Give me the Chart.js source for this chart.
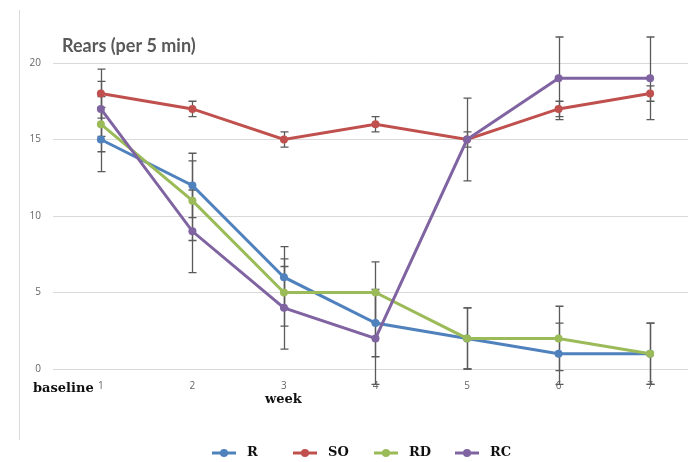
<!DOCTYPE html>
<html>
<head>
<meta charset="utf-8">
<script src="https://cdn.jsdelivr.net/npm/chart.js@4/dist/chart.umd.min.js"></script>
<style>
  html, body { margin: 0; padding: 0; background: #fff; }
  #wrap { width: 692px; height: 462px; position: relative; }
</style>
</head>
<body>
<div id="wrap"><canvas id="c" width="692" height="462"></canvas></div>
<script>
// Weeks on the x axis
const weeks = [1, 2, 3, 4, 5, 6, 7];
const weekLabels = ['1', '2', '3', '4', '5', '6', '7'];
const yTicks = [0, 5, 10, 15, 20];

// Mean rears per 5 min for each group
const seriesNames = ['R', 'SO', 'RD', 'RC'];
const rValues  = [15, 12, 6, 3, 2, 1, 1];
const soValues = [18, 17, 15, 16, 15, 17, 18];
const rdValues = [16, 11, 5, 5, 2, 2, 1];
const rcValues = [17, 9, 4, 2, 15, 19, 19];

// Error bar half-widths (±)
const rErr  = [2.1, 2.1, 2.0, 2.2, 2.0, 2.0, 2.0];
const soErr = [1.6, 0.5, 0.5, 0.5, 0.5, 0.5, 0.5];
const rdErr = [1.8, 2.6, 2.2, 2.0, 2.0, 2.1, 2.0];
const rcErr = [1.8, 2.7, 2.7, 3.0, 2.7, 2.7, 2.7];

const colors = ['#4f81bd', '#c0504d', '#9bbb59', '#8064a2'];
const values = [rValues, soValues, rdValues, rcValues];
const errors = [rErr, soErr, rdErr, rcErr];

const datasets = seriesNames.map((name, i) => ({
  label: name,
  data: weeks.map((w, j) => ({ x: w, y: values[i][j] })),
  errors: errors[i],
  borderColor: colors[i],
  backgroundColor: colors[i],
  pointBackgroundColor: colors[i],
  pointBorderColor: colors[i],
  borderWidth: 3,
  pointRadius: 4,
  pointBorderWidth: 0,
  tension: 0,
  order: 3 - i,
  clip: false
}));

const serifBold = 'bold 13px "DejaVu Serif", "Liberation Serif", serif';

// Error bars, drawn beneath the lines
const errorBars = {
  id: 'errorBars',
  beforeDatasetsDraw(chart) {
    const ctx = chart.ctx;
    const xs = chart.scales.x, ys = chart.scales.y;
    ctx.save();
    ctx.strokeStyle = '#5a5a5a';
    ctx.lineWidth = 1.3;
    chart.data.datasets.forEach(ds => {
      ds.data.forEach((p, j) => {
        const e = ds.errors[j];
        const x = Math.round(xs.getPixelForValue(p.x)) + 0.5;
        const yTop = ys.getPixelForValue(p.y + e);
        const yBot = ys.getPixelForValue(p.y - e);
        ctx.beginPath();
        ctx.moveTo(x, yTop); ctx.lineTo(x, yBot);
        ctx.moveTo(x - 4, yTop); ctx.lineTo(x + 4, yTop);
        ctx.moveTo(x - 4, yBot); ctx.lineTo(x + 4, yBot);
        ctx.stroke();
      });
    });
    ctx.restore();
  }
};

// Frame line, title, axis captions and legend
const decorations = {
  id: 'decorations',
  afterDraw(chart) {
    const ctx = chart.ctx;
    ctx.save();
    ctx.strokeStyle = '#d9d9d9';
    ctx.lineWidth = 1;
    ctx.beginPath();
    ctx.moveTo(19.5, 10); ctx.lineTo(19.5, 440);
    ctx.stroke();

    ctx.fillStyle = '#595959';
    ctx.font = 'bold 18px Lato, "Open Sans", sans-serif';
    ctx.textBaseline = 'middle';
    ctx.textAlign = 'left';
    ctx.fillText('Rears (per 5 min)', 62, 46);

    ctx.fillStyle = '#111';
    ctx.font = serifBold;
    ctx.fillText('baseline', 33, 389);
    ctx.fillText('week', 265, 400);

    // legend
    const startX = 212, itemW = 81, ly = 453;
    chart.data.datasets.forEach((ds, i) => {
      const x0 = startX + i * itemW;
      ctx.strokeStyle = ds.borderColor;
      ctx.lineWidth = 3;
      ctx.beginPath();
      ctx.moveTo(x0, ly); ctx.lineTo(x0 + 24, ly);
      ctx.stroke();
      ctx.fillStyle = ds.borderColor;
      ctx.beginPath();
      ctx.arc(x0 + 12, ly, 4, 0, Math.PI * 2);
      ctx.fill();
      ctx.fillStyle = '#111';
      ctx.font = serifBold;
      ctx.fillText(ds.label, x0 + 35, ly);
    });
    ctx.restore();
  }
};

new Chart(document.getElementById('c'), {
  type: 'line',
  data: { datasets },
  options: {
    responsive: false,
    animation: false,
    events: [],
    layout: { padding: { top: 63, left: 0, right: 2, bottom: 0 } },
    plugins: { legend: { display: false }, tooltip: { enabled: false }, title: { display: false } },
    scales: {
      x: {
        type: 'linear',
        min: 0.477,
        max: 7.414,
        afterFit(s) { s.height = 93; },
        afterBuildTicks(s) { s.ticks = weeks.map(v => ({ value: v })); },
        grid: { display: false },
        border: { display: false },
        ticks: {
          padding: 3,
          color: '#666',
          font: { family: '"Open Sans", sans-serif', size: 10 },
          callback: (v) => weekLabels[weeks.indexOf(v)] ?? ''
        }
      },
      y: {
        min: 0,
        max: 20,
        afterFit(s) { s.width = 53; },
        afterBuildTicks(s) { s.ticks = yTicks.map(v => ({ value: v })); },
        grid: { color: '#d9d9d9', lineWidth: 1, drawTicks: false },
        border: { display: false },
        ticks: {
          padding: 12,
          color: '#666',
          font: { family: '"Open Sans", sans-serif', size: 10 }
        }
      }
    }
  },
  plugins: [errorBars, decorations]
});
</script>
</body>
</html>
